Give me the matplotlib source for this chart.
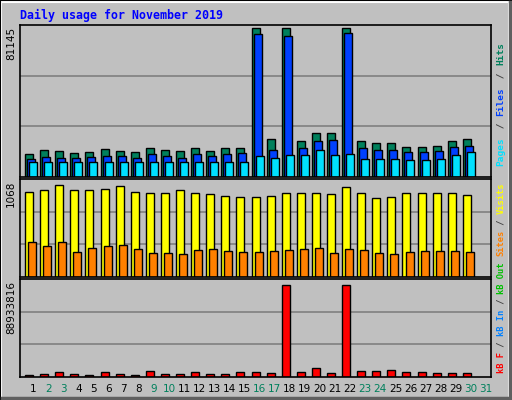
import matplotlib
matplotlib.use("Agg")
import matplotlib.pyplot as plt
import numpy as np

days = np.arange(1, 31)
hits = [12400, 14600, 14100, 13000, 13600, 15200, 14100, 13600, 15700, 14600,
        14100, 15700, 14100, 15700, 15700, 81100, 20800, 81100, 19800, 23700,
        23700, 81145, 19800, 18700, 18700, 16600, 16600, 17100, 19800, 20800]
files = [9700, 10800, 10300, 10300, 10800, 11300, 11300, 10300, 12400, 11300,
         10300, 12400, 11300, 12400, 13000, 77800, 14600, 76700, 15700, 19800,
         20300, 78300, 15700, 14600, 14600, 13600, 13600, 14100, 16600, 17100]
pages = [8300, 8300, 8300, 8300, 8300, 8300, 8300, 8300, 8300, 8300,
         8300, 8300, 8300, 8300, 8300, 11600, 10500, 12100, 12100, 14900,
         12100, 12700, 9900, 9900, 9900, 9400, 9400, 9900, 12100, 13800]
visits = [987, 1010, 1068, 1010, 1010, 1022, 1056, 987, 975, 975,
          1010, 975, 964, 940, 929, 929, 940, 975, 975, 975,
          964, 1045, 975, 917, 929, 975, 975, 975, 975, 952]
sites = [406, 360, 406, 290, 337, 360, 371, 325, 279, 279,
         267, 313, 325, 302, 290, 290, 302, 313, 325, 337,
         279, 325, 313, 279, 267, 290, 302, 302, 302, 290]
kbytes = [1.9e6, 2.9e6, 4.8e6, 2.9e6, 1.9e6, 4.8e6, 2.9e6, 1.9e6, 5.8e6, 2.9e6,
          2.9e6, 4.8e6, 2.9e6, 2.9e6, 4.8e6, 4.8e6, 3.9e6, 88933816, 4.8e6, 8.7e6,
          3.9e6, 88933816, 5.8e6, 5.8e6, 6.8e6, 4.8e6, 4.8e6, 3.9e6, 3.9e6, 3.9e6]
weekend_days = [2, 3, 9, 10, 16, 17, 23, 24, 30, 31]

W, H = 512, 400
bg = "#c0c0c0"
fig = plt.figure(figsize=(W / 100, H / 100), dpi=100, facecolor=bg)
mono = "DejaVu Sans Mono"
px = 1 / 15.1


def panel(y0, y1):
    ax = fig.add_axes([20 / W, 1 - y1 / H, 471 / W, (y1 - y0) / H])
    ax.set_facecolor(bg)
    ax.set_xlim(1 - 14 * px, 1 + 457 * px)
    ax.set_xticks([])
    ax.set_yticks([])
    for s in ax.spines.values():
        s.set_linewidth(1.2)
    return ax


def grid(ax, top):
    for f in (1 / 3, 2 / 3):
        ax.axhline(top * f, color="#808080", lw=1.2, zorder=0)
    ax.set_ylim(0, top)


ax1 = panel(25, 177)
top1 = 81145 * 150 / 147
grid(ax1, top1)
kw = dict(align="edge", edgecolor="black", linewidth=1)
ax1.bar(days - 9 * px, hits, 8 * px, color="#00805c", **kw)
ax1.bar(days - 7 * px, files, 8 * px, color="#0040ff", **kw)
ax1.bar(days - 5 * px, pages, 8 * px, color="#00e0ff", **kw)

ax2 = panel(179, 277)
top2 = 1068 * 98 / 92
grid(ax2, top2)
ax2.bar(days - 9 * px, visits, 8 * px, color="#ffff00", **kw)
ax2.bar(days - 6 * px, sites, 8 * px, color="#ff8000", **kw)

ax3 = panel(279, 377)
top3 = 88933816 * 98 / 92
grid(ax3, top3)
ax3.bar(days - 9 * px, kbytes, 8 * px, color="#ff0000", **kw)

fig.text(20 / W, 1 - 15 / H, "Daily usage for November 2019", color="#0000ff",
         family=mono, weight="bold", fontsize=8.4, va="center")

for lbl, ytop in (("81145", 27), ("1068", 181), ("88933816", 281)):
    fig.text(11 / W, 1 - ytop / H, lbl, rotation=90, family="DejaVu Sans",
             fontsize=7.5, ha="center", va="top")

for d in range(1, 32):
    c = "#00805c" if d in weekend_days else "black"
    xd = 20 + (d - 1 + 14 * px) * 15.1 - 1
    fig.text(xd / W, 1 - 389 / H, str(d), color=c, fontsize=7.5, ha="center", va="center")


# right side legends, placed bottom to top
def vlegend(parts, ybottom, step, size):
    y = ybottom
    for txt, col in parts:
        if txt.strip():
            fig.text(501 / W, 1 - y / H, txt, rotation=90, color=col, family=mono,
                     weight="bold", fontsize=size, ha="center", va="bottom")
        y -= len(txt) * step


sep = "#404040"
vlegend([("Pages", "#00e0ff"), (" / ", sep), ("Files", "#0040ff"),
         (" / ", sep), ("Hits", "#00805c")], 166, 6.3, 6.8)
vlegend([("kB F", "#ff0000"), (" / ", sep), ("kB In", "#0080ff"),
         (" / ", sep), ("kB Out", "#00c000"), (" ", sep), ("Sites", "#ff8000"),
         (" / ", sep), ("Visits", "#ffff00")], 373, 5.3, 6.3)

# bevel frame
fig.add_artist(plt.Rectangle((1 / W, 1 / H), 508 / W, 397 / H, transform=fig.transFigure,
                             fill=False, edgecolor="white", lw=1.5))
fig.add_artist(plt.Line2D([2 / W, 510 / W], [2 / H, 2 / H], color="#606060", lw=2.5))
fig.add_artist(plt.Line2D([510 / W, 510 / W], [2 / H, 398 / H], color="#606060", lw=2.5))
fig.add_artist(plt.Rectangle((0, 0), 1, 1, transform=fig.transFigure,
                             fill=False, edgecolor="black", lw=1.5))

fig.savefig("out.png", dpi=100, facecolor=bg)
